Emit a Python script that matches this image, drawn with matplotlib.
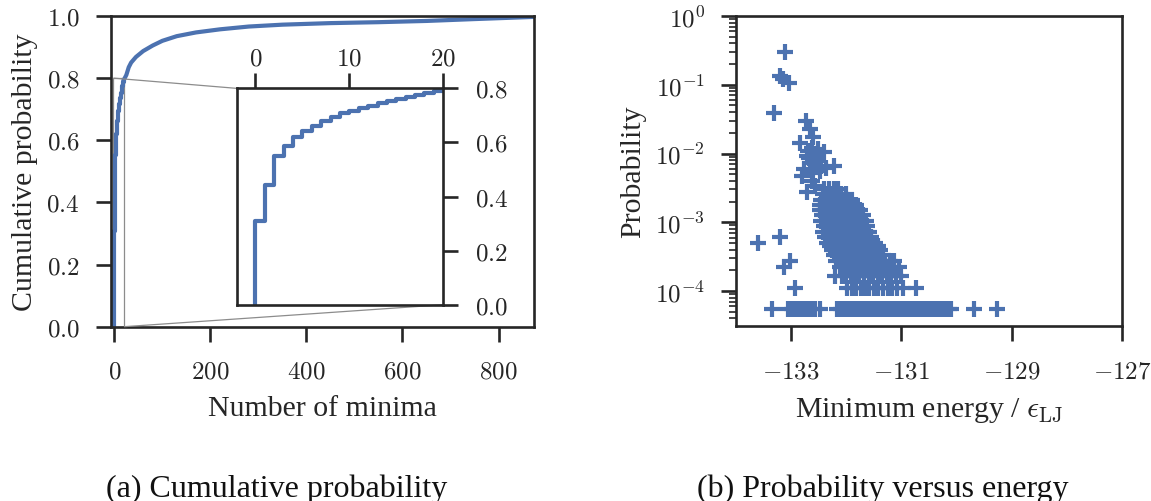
import numpy as np
import matplotlib
matplotlib.use("Agg")
import matplotlib.pyplot as plt
from matplotlib.ticker import FuncFormatter
from mpl_toolkits.axes_grid1.inset_locator import mark_inset

plt.rcParams['mathtext.fontset'] = 'cm'
plt.rcParams['font.family'] = 'serif'
plt.rcParams['font.serif'] = ['Liberation Serif', 'DejaVu Serif']

BLUE = '#4C72B0'
DARK = '#262626'

# (a) cumulative probability of the first minima (step curve), n = 0..20
n_steps = list(range(0, 21))
cdf_steps = [0.308, 0.444, 0.551, 0.588, 0.619, 0.644, 0.662, 0.680, 0.694, 0.708,
             0.718, 0.727, 0.736, 0.745, 0.752, 0.760, 0.768, 0.775, 0.783, 0.789, 0.795]
# rest of the curve
n_tail = [20, 25, 30, 35, 45, 60, 80, 100, 130, 170, 220, 280, 350, 450, 550, 650, 750, 874]
cdf_tail = [0.795, 0.81, 0.835, 0.85, 0.868, 0.887, 0.905, 0.920, 0.935, 0.947, 0.957,
            0.966, 0.972, 0.977, 0.980, 0.984, 0.990, 0.997]

# (b) probability = count / n_total
n_total = 18000
e_sparse = [-133.115, -133.205, -133.15, -133.04, -133.31,
            -133.60, -133.205, -133.02, -133.13, -132.93,
            -132.735, -132.66, -132.61, -132.83, -132.63, -132.40, -132.51, -132.72,
            -132.57, -132.66, -132.23, -132.77, -132.48, -132.81, -132.63, -132.72,
            -132.54, -132.68, -132.51, -132.57, -132.45, -132.60, -132.70, -132.36]
c_sparse = [5400, 2430, 2160, 1910, 700,
            9, 11, 5, 4, 2,
            540, 405, 310, 260, 220, 187, 168, 168,
            150, 133, 119, 106, 101, 86, 72, 49,
            141, 157, 206, 61, 120, 95, 195, 110]

level_counts = [55, 46, 38, 32, 27, 23, 19, 16, 13, 11, 9, 8, 7, 6, 5, 4, 3, 2]
level_energies = [
    [-132.40, -132.31, -132.23, -132.15],
    [-132.42, -132.34, -132.27, -132.19, -132.10, -132.00],
    [-132.45, -132.37, -132.28, -132.21, -132.13, -132.05, -131.97, -131.90],
    [-132.47, -132.39, -132.30, -132.22, -132.15, -132.07, -131.98, -131.90, -131.82],
    [-132.48, -132.40, -132.33, -132.25, -132.16, -132.08, -132.01, -131.92, -131.84, -131.75],
    [-132.44, -132.36, -132.27, -132.19, -132.12, -132.03, -131.95, -131.87, -131.78, -131.70],
    [-132.46, -132.38, -132.30, -132.21, -132.14, -132.06, -131.97, -131.89, -131.81, -131.73, -131.65],
    [-132.41, -132.33, -132.24, -132.17, -132.09, -132.00, -131.93, -131.85, -131.77, -131.69, -131.62],
    [-132.42, -132.35, -132.26, -132.18, -132.10, -132.02, -131.95, -131.87, -131.79, -131.71, -131.64,
     -131.58],
    [-132.39, -132.31, -132.22, -132.14, -132.06, -131.98, -131.90, -131.83, -131.74, -131.66, -131.55],
    [-132.34, -132.26, -132.19, -132.11, -132.03, -131.94, -131.86, -131.78, -131.70, -131.62, -131.55,
     -131.48],
    [-132.30, -132.21, -132.13, -132.05, -131.97, -131.89, -131.80, -131.72, -131.64, -131.57, -131.49,
     -131.42],
    [-132.25, -132.17, -132.09, -132.00, -131.92, -131.84, -131.76, -131.68, -131.60, -131.52, -131.45,
     -131.38],
    [-132.22, -132.14, -132.06, -131.98, -131.90, -131.81, -131.73, -131.66, -131.58, -131.50, -131.42,
     -131.34],
    [-132.18, -132.10, -132.02, -131.94, -131.85, -131.77, -131.69, -131.61, -131.54, -131.46, -131.38,
     -131.30, -131.21, -131.13],
    [-132.12, -132.04, -131.96, -131.88, -131.80, -131.71, -131.63, -131.55, -131.47, -131.39, -131.31,
     -131.22, -131.14, -131.05],
    [-132.21, -132.08, -132.00, -131.92, -131.84, -131.76, -131.67, -131.59, -131.51, -131.43, -131.35,
     -131.26, -131.18, -131.09, -131.00],
    [-131.98, -131.90, -131.82, -131.74, -131.66, -131.58, -131.50, -131.42, -131.33, -131.25, -131.17,
     -131.08, -130.98, -130.73],
]

# minima seen only once (count = 1)
e_single = [-133.355,
            -133.05, -132.98, -132.91, -132.84, -132.77, -132.70, -132.63, -132.56, -132.48,
            -132.17, -132.10, -132.03, -131.96, -131.89, -131.82, -131.75, -131.68, -131.61,
            -131.54, -131.47, -131.40, -131.33, -131.26, -131.19, -131.12, -131.05, -130.98,
            -130.91, -130.84, -130.77, -130.70, -130.63, -130.56, -130.49, -130.42, -130.35,
            -130.28, -130.21, -130.14, -130.10,
            -129.68, -129.26]

# build the point arrays
energies = list(e_sparse)
counts = list(c_sparse)
for c, es in zip(level_counts, level_energies):
    energies += es
    counts += [c] * len(es)
energies += e_single
counts += [1] * len(e_single)
energies = np.array(energies)
prob = np.array(counts) / n_total

# tick labels in computer modern (pure mathtext)
fmt_1f = FuncFormatter(lambda v, pos: r'$%.1f$' % v)
fmt_int = FuncFormatter(lambda v, pos: r'$%d$' % round(v))
fmt_log = FuncFormatter(lambda v, pos: r'$10^{%d}$' % round(np.log10(v)))

fig = plt.figure(figsize=(11.51, 5.02), dpi=100)

def style(ax):
    for s in ax.spines.values():
        s.set_linewidth(1.9)
        s.set_color(DARK)
    ax.tick_params(which='major', length=10.5, width=1.9, color=DARK, labelsize=18,
                   labelcolor=DARK)
    ax.tick_params(which='minor', length=5, width=1.2, color=DARK)

# ---- (a)
ax1 = fig.add_axes([0.0962, 0.3472, 0.3678, 0.619])
style(ax1)
ax1.step([0] + n_steps, [0] + cdf_steps, where='post', color=BLUE, lw=3)
ax1.plot(n_tail, cdf_tail, color=BLUE, lw=3)
ax1.set_xlim(-7.5, 874)
ax1.set_ylim(0, 1.0)
ax1.set_xticks([0, 200, 400, 600, 800])
ax1.set_yticks([0, 0.2, 0.4, 0.6, 0.8, 1.0])
ax1.xaxis.set_major_formatter(fmt_int)
ax1.yaxis.set_major_formatter(fmt_1f)
ax1.tick_params(axis='x', pad=14)
ax1.tick_params(axis='y', pad=12)
ax1.set_xlabel('Number of minima', fontsize=21.5, color=DARK, labelpad=9)
ax1.set_ylabel('Cumulative probability', fontsize=21.5, color=DARK, labelpad=6)

axins = fig.add_axes([0.2056, 0.391, 0.1795, 0.431])
style(axins)
axins.step([0] + n_steps, [0] + cdf_steps, where='post', color=BLUE, lw=3)
axins.set_xlim(-2, 20)
axins.set_ylim(0, 0.8)
axins.set_xticks([0, 10, 20])
axins.set_yticks([0, 0.2, 0.4, 0.6, 0.8])
axins.xaxis.set_major_formatter(fmt_int)
axins.yaxis.set_major_formatter(fmt_1f)
axins.xaxis.tick_top()
axins.yaxis.tick_right()
axins.tick_params(axis='x', pad=3)
axins.tick_params(axis='y', pad=12)
mark_inset(ax1, axins, loc1=2, loc2=4, fc='none', ec='0.55', lw=0.9)

# ---- (b)
ax2 = fig.add_axes([0.6394, 0.3486, 0.3354, 0.6175])
style(ax2)
ax2.plot(energies, prob, linestyle='none', marker='+', ms=12, mew=3, color=BLUE)
ax2.set_yscale('log')
ax2.set_xlim(-134, -127)
ax2.set_ylim(3.1e-5, 1)
ax2.set_xticks([-133, -131, -129, -127])
ax2.xaxis.set_major_formatter(fmt_int)
ax2.yaxis.set_major_formatter(fmt_log)
ax2.tick_params(axis='x', pad=14)
ax2.tick_params(axis='y', pad=12)
ax2.set_xlabel(r'Minimum energy / $\epsilon_{\mathrm{LJ}}$', fontsize=21.5, color=DARK,
               labelpad=9)
ax2.set_ylabel('Probability', fontsize=21.5, color=DARK, labelpad=6)

fig.text(0.2407, 0.026, '(a) Cumulative probability', fontsize=23, ha='center', va='center',
         color='#111111')
fig.text(0.767, 0.026, '(b) Probability versus energy', fontsize=23, ha='center', va='center',
         color='#111111')

fig.savefig('out.png', dpi=100)
